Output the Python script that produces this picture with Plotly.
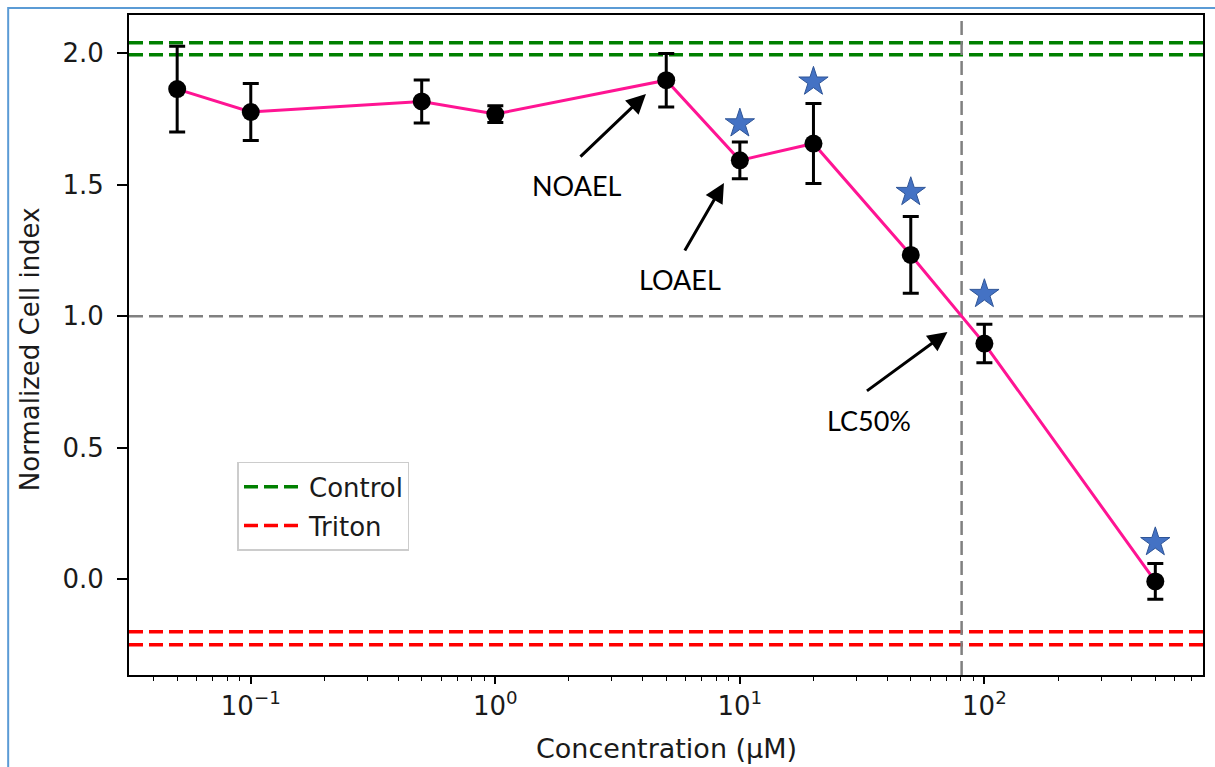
import plotly.graph_objects as go

# ---------------- data ----------------
conc = [0.05, 0.1, 0.5, 1, 5, 10, 20, 50, 100, 500]
cell_index = [1.864, 1.777, 1.817, 1.769, 1.898, 1.593, 1.657, 1.233, 0.896, -0.009]
cell_err = [0.163, 0.108, 0.082, 0.032, 0.102, 0.070, 0.152, 0.146, 0.073, 0.068]

star_conc = [10, 20, 50, 100, 500]
star_level = [1.733, 1.892, 1.472, 1.084, 0.14]

control_levels = [2.04, 1.995]
triton_levels = [-0.20, -0.25]

lc50_conc = 80.7
lc50_level = 1.0

x_tickvals = [0.1, 1, 10, 100]
x_ticktext = ["10<sup>−1</sup>", "10<sup>0</sup>", "10<sup>1</sup>", "10<sup>2</sup>"]
y_tickvals = [0.0, 0.5, 1.0, 1.5, 2.0]

# ---------------- layout constants ----------------
X_RANGE_LOG = [-1.498, 2.894]
Y_RANGE = [-0.365, 2.146]
x_span = [10 ** X_RANGE_LOG[0], 10 ** X_RANGE_LOG[1]]

minor_vals = [m * 10 ** d for d in range(-2, 3) for m in range(2, 10)
              if x_span[0] <= m * 10 ** d <= x_span[1]]

DASH = "14px,6px"
fig = go.Figure()

# Control lines
for i, lv in enumerate(control_levels):
    fig.add_trace(go.Scatter(
        x=x_span, y=[lv, lv], mode="lines",
        line=dict(color="#008000", width=3.5, dash=DASH),
        name="Control", legendgroup="control", showlegend=(i == 0),
        hoverinfo="skip"))

# Triton lines
for i, lv in enumerate(triton_levels):
    fig.add_trace(go.Scatter(
        x=x_span, y=[lv, lv], mode="lines",
        line=dict(color="#ff0000", width=3.5, dash=DASH),
        name="Triton", legendgroup="triton", showlegend=(i == 0),
        hoverinfo="skip"))

# LC50 guide lines
fig.add_trace(go.Scatter(
    x=x_span, y=[lc50_level, lc50_level], mode="lines",
    line=dict(color="#808080", width=2.5, dash=DASH), showlegend=False, hoverinfo="skip"))
fig.add_trace(go.Scatter(
    x=[lc50_conc, lc50_conc], y=Y_RANGE, mode="lines",
    line=dict(color="#808080", width=2.5, dash=DASH), showlegend=False, hoverinfo="skip"))

# Main data
fig.add_trace(go.Scatter(
    x=conc, y=cell_index, mode="lines+markers",
    line=dict(color="#ff1493", width=3),
    marker=dict(color="black", size=18),
    error_y=dict(type="data", array=cell_err, color="black", thickness=3, width=8),
    showlegend=False))

# Significance stars
fig.add_trace(go.Scatter(
    x=star_conc, y=star_level, mode="markers",
    marker=dict(symbol="star", size=22, color="#4472c4",
                line=dict(color="#2f5597", width=1)),
    showlegend=False))

# ---------------- annotations ----------------
ann_font = dict(family="Lato, Liberation Sans, sans-serif", size=27, color="black")
arrows = [
    (0.616, 1.845, -67, 64),
    (0.935, 1.507, -40, 69),
    (1.849, 0.940, -82, 60),
]
annotations = []
for hx, hy, ax, ay in arrows:
    annotations.append(dict(
        x=hx, y=hy, xref="x", yref="y", text="", showarrow=True,
        ax=ax, ay=ay, arrowhead=2, arrowsize=1.3, arrowwidth=3,
        arrowcolor="black", standoff=0))
labels = [("NOAEL", 0.335, 1.499), ("LOAEL", 0.755, 1.138), ("LC50%", 1.527, 0.605)]
for txt, tx, ty in labels:
    annotations.append(dict(x=tx, y=ty, xref="x", yref="y", text=txt,
                            showarrow=False, font=ann_font,
                            xanchor="center", yanchor="middle"))

# axis titles
annotations.append(dict(x=-0.092, y=0.494, xref="paper", yref="paper",
                        text="Normalized Cell index", textangle=-90,
                        showarrow=False,
                        font=dict(family="DejaVu Sans", size=26, color="#1a1a1a"),
                        xanchor="center", yanchor="middle"))
annotations.append(dict(x=0.5, y=-0.112, xref="paper", yref="paper",
                        text="Concentration (µM)", showarrow=False,
                        font=dict(family="DejaVu Sans", size=27, color="#1a1a1a"),
                        xanchor="center", yanchor="middle"))

tick_font = dict(family="DejaVu Sans", size=26, color="#1a1a1a")

fig.update_layout(
    width=1215, height=767, autosize=False,
    margin=dict(l=129, r=10, t=15, b=92),
    paper_bgcolor="white", plot_bgcolor="white",
    showlegend=True,
    legend=dict(x=0.101, y=0.323, xanchor="left", yanchor="top",
                bgcolor="white", bordercolor="#cccccc", borderwidth=1.5,
                font=dict(family="DejaVu Sans", size=26, color="#1a1a1a"),
                itemwidth=60, tracegroupgap=2),
    annotations=annotations,
    shapes=[dict(type="rect", xref="paper", yref="paper",
                 x0=-0.1125, x1=1.3, y0=-0.5, y1=1.0106,
                 line=dict(color="#5b9bd5", width=2), layer="above")],
    xaxis=dict(type="log", range=X_RANGE_LOG,
               tickmode="array", tickvals=x_tickvals, ticktext=x_ticktext,
               ticks="outside", ticklen=7, tickwidth=1.5, tickcolor="black",
               showline=True, linecolor="black", linewidth=2, mirror=True,
               showgrid=False, zeroline=False, tickfont=tick_font,
               minor=dict(tickmode="array", tickvals=minor_vals, ticks="outside",
                          ticklen=4, tickwidth=1.2, tickcolor="black", showgrid=False)),
    yaxis=dict(range=Y_RANGE, tickmode="array", tickvals=y_tickvals,
               tickformat=".1f",
               ticks="outside", ticklen=10, tickwidth=1.5, tickcolor="black",
               showline=True, linecolor="black", linewidth=2, mirror=True,
               showgrid=False, zeroline=False, tickfont=tick_font,
               ticklabelstandoff=8),
)

fig.write_html(
    "out.html",
    config={"displayModeBar": False},
    post_script="document.body.style.margin='0';document.body.style.overflow='hidden';",
)
